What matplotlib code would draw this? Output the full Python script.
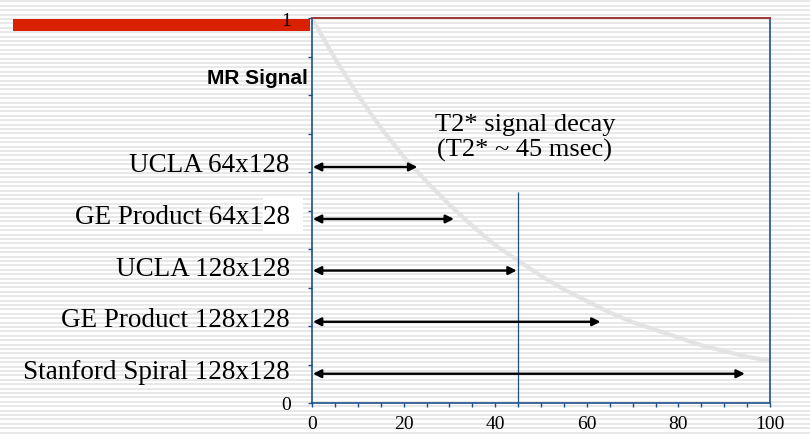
import numpy as np
import matplotlib as mpl
import matplotlib.pyplot as plt

mpl.rcParams.update({
    "font.family": "serif",
    "font.serif": ["Liberation Serif", "DejaVu Serif"],
    "font.size": 14,
})

# decay curve (time in msec, relative signal)
t_ms = [0, 5, 10, 15, 20, 25, 30, 35, 40, 45, 50, 55, 60, 65, 70, 75, 80, 85, 90, 95, 100]
signal = [1.00, 0.895, 0.80, 0.715, 0.64, 0.575, 0.515, 0.46, 0.41, 0.37, 0.33,
          0.295, 0.265, 0.235, 0.21, 0.19, 0.17, 0.15, 0.135, 0.12, 0.11]

# readout windows, top to bottom
labels = ["UCLA 64x128", "GE Product 64x128", "UCLA 128x128",
          "GE Product 128x128", "Stanford Spiral 128x128"]
readout_end = [23, 31, 44.7, 63, 94.5]
row_y = [0.613, 0.478, 0.344, 0.211, 0.076]

t2star = 45
t2star_line_top = 0.548

blue = "#1b4f8a"

fig = plt.figure(figsize=(8.1, 4.35), dpi=100)

# striped slide background
bg = fig.add_axes([0, 0, 1, 1], zorder=-10)
bg.set_xlim(0, 1)
bg.set_ylim(0, 435)
bg.hlines(np.arange(1.5, 435, 4.4), 0, 1, color="#e6e6e6", lw=1.3, zorder=1)
bg.add_patch(plt.Rectangle((13 / 810, 435 - 32), 297 / 810, 12,
                           color="#d92000", lw=0, zorder=2))
# white patch behind the end of one label
bg.add_patch(plt.Rectangle((263 / 810, 435 - 232), 40 / 810, 35,
                           color="white", lw=0, zorder=2))
bg.axis("off")

ax = fig.add_axes([312 / 810, 31 / 435, 458 / 810, 385 / 435])
ax.patch.set_alpha(0)

ax.plot(t_ms, signal, color="#e3e3e3", lw=3, solid_capstyle="round", zorder=1)
ax.axhline(1, color="#a33a3a", lw=1.4, clip_on=False, zorder=4)
ax.vlines(t2star, 0, t2star_line_top, color=blue, lw=0.9, zorder=2)

for lab, end, y in zip(labels, readout_end, row_y):
    ax.annotate("", xy=(end, y), xytext=(0.2, y),
                arrowprops=dict(arrowstyle="<|-|>", color="black", lw=1.7,
                                mutation_scale=12, shrinkA=0, shrinkB=0),
                zorder=3)
    ax.annotate(lab, xy=(0, y), xytext=(-16, -3.2), textcoords="offset points",
                ha="right", va="baseline", fontsize=19.5, annotation_clip=False)

ax.text(46.5, 0.69, "T2* signal decay\n(T2* ~ 45 msec)", ha="center",
        va="center", fontsize=19, linespacing=1.15)

ax.text(-0.9, 0.83, "MR Signal", ha="right", va="baseline",
        fontsize=15, fontweight="bold", family="Liberation Sans")

ax.set_xlim(0, 100)
ax.set_ylim(0, 1)
ax.set_xticks(np.arange(0, 101, 20))
ax.set_xticks(np.arange(0, 101, 5), minor=True)
ax.set_yticks([0, 1])
ax.set_yticks(np.arange(0, 1.01, 0.1), minor=True)
ax.tick_params(which="both", direction="out", length=3, width=1, color=blue)
ax.tick_params(axis="x", pad=6)
ax.tick_params(axis="y", pad=12)

for side in ["left", "right", "bottom", "top"]:
    ax.spines[side].set_color(blue)
    ax.spines[side].set_linewidth(1.2)

fig.savefig("out.png", dpi=100)
